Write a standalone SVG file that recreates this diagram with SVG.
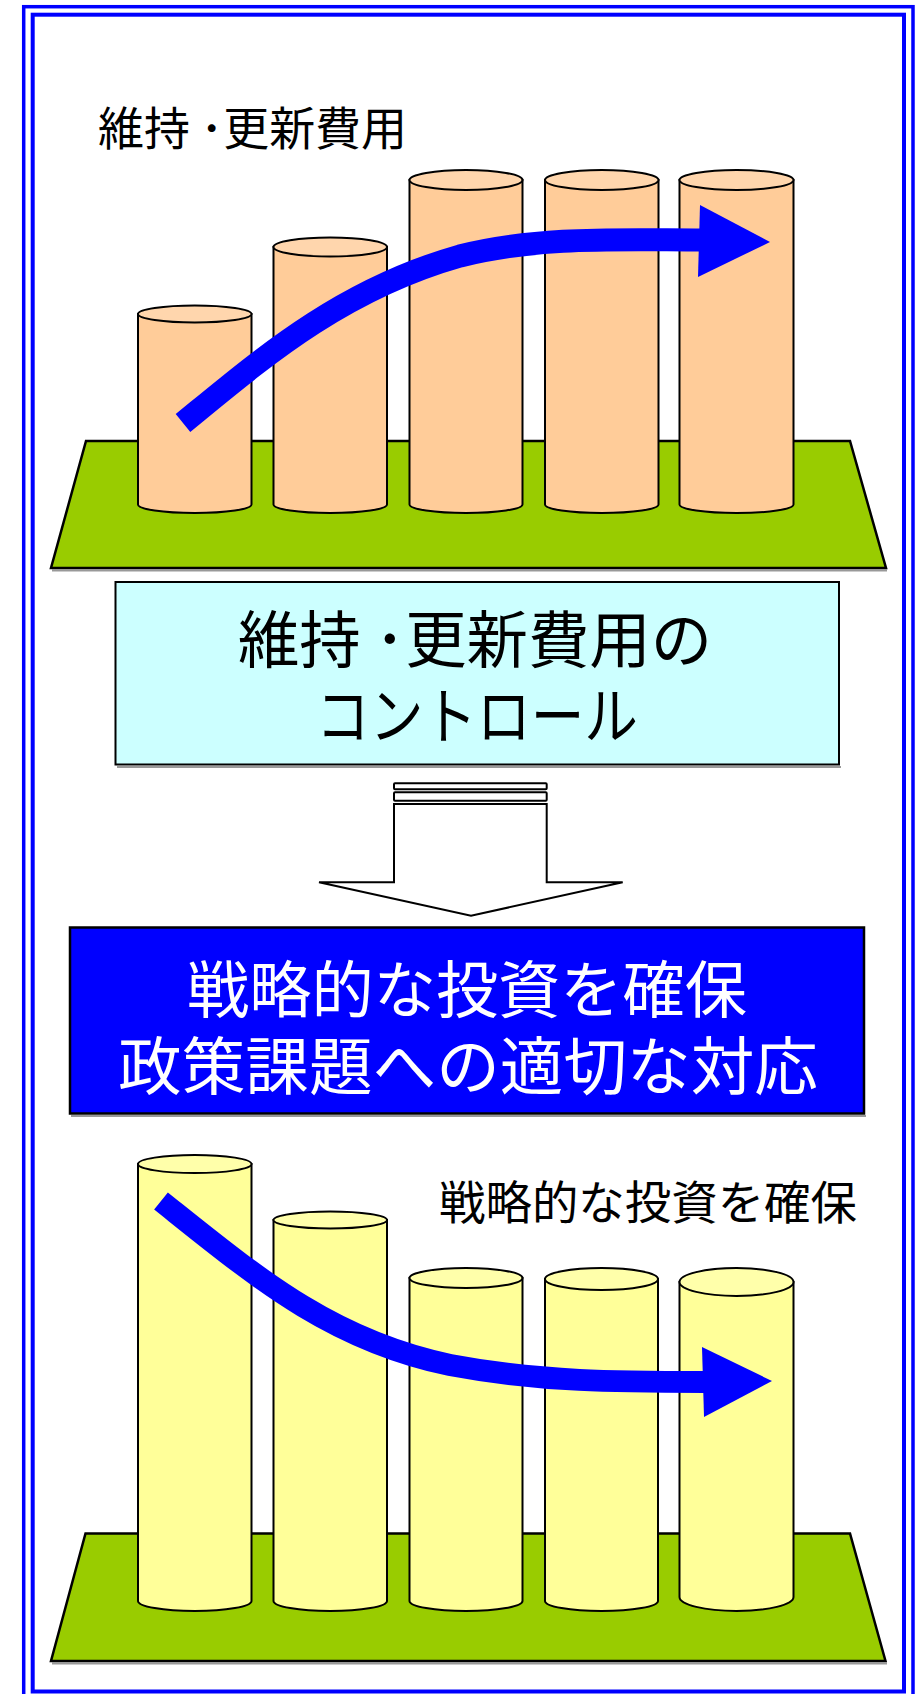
<svg xmlns="http://www.w3.org/2000/svg" width="922" height="1694" viewBox="0 0 922 1694">
<style>
.frame{fill:none;stroke:#0000FF}
.ground{fill:#99CC00;stroke:#000;stroke-width:2.5;stroke-linejoin:miter}
.shadow{fill:none;stroke:#999;stroke-width:2}
.cylO{fill:#FFCC99;stroke:#000;stroke-width:2}
.topO{fill:#FFD6AD;stroke:#000;stroke-width:2}
.cylY{fill:#FFFF99;stroke:#000;stroke-width:2}
.topY{fill:#FFFFAA;stroke:#000;stroke-width:2}
.trend{fill:none;stroke:#0000FF;stroke-width:23;stroke-linejoin:round}
.head{fill:#0000FF}
.jp{font-family:"Noto Sans CJK JP","Noto Sans CJK SC",sans-serif}
</style>
<rect x="0" y="0" width="922" height="1694" fill="#fff"/>
<g id="frame">
<rect class="frame" x="23.7" y="6.7" width="889.3" height="1694" stroke-width="3.5"/>
<rect class="frame" x="32.7" y="14.7" width="871.3" height="1676.8" stroke-width="4"/>
</g>

<g id="top-chart">
<text class="jp" x="98" y="145" font-size="46" textLength="309" lengthAdjust="spacingAndGlyphs" fill="#000">維持 ･更新費用</text>
<polyline class="shadow" points="52,570.5 887,570.5"/>
<polygon class="ground" points="86,441 850,441 886,568 51,568"/>
<g id="cyl-top-1">
<path class="cylO" d="M138,314 V504.5 A56.75,8.5 0 0 0 251.5,504.5 V314 Z"/>
<ellipse class="topO" cx="194.75" cy="314" rx="56.75" ry="8.5"/>
</g>
<g id="cyl-top-2">
<path class="cylO" d="M273.5,247 V504.5 A56.75,8.5 0 0 0 387,504.5 V247 Z"/>
<ellipse class="topO" cx="330.25" cy="247" rx="56.75" ry="9.5"/>
</g>
<g id="cyl-top-3">
<path class="cylO" d="M409.5,180 V504.5 A56.5,8.5 0 0 0 522.5,504.5 V180 Z"/>
<ellipse class="topO" cx="466" cy="180" rx="56.5" ry="10"/>
</g>
<g id="cyl-top-4">
<path class="cylO" d="M545,180 V504.5 A56.75,8.5 0 0 0 658.5,504.5 V180 Z"/>
<ellipse class="topO" cx="601.75" cy="180" rx="56.75" ry="10"/>
</g>
<g id="cyl-top-5">
<path class="cylO" d="M679.5,180 V504.5 A57,8.5 0 0 0 793.5,504.5 V180 Z"/>
<ellipse class="topO" cx="736.5" cy="180" rx="57" ry="10"/>
</g>
<g id="trend-up">
<path class="trend" d="M183,423 C260,360 340,290 460,256 C540,236 620,240 702,240"/>
<polygon class="head" points="700,205 698,277 770,242"/>
</g>
</g>

<g id="box-control">
<polyline class="shadow" points="117,767 841,767"/>
<rect x="115.5" y="582" width="723.5" height="182.5" fill="#CCFFFF" stroke="#000" stroke-width="2"/>
<text class="jp" x="238" y="663" font-size="62" textLength="474" lengthAdjust="spacingAndGlyphs" fill="#000">維持 ･更新費用の</text>
<text class="jp" x="316" y="739" font-size="62" textLength="322" lengthAdjust="spacingAndGlyphs" fill="#000">コントロール</text>
</g>

<g id="connectors">
<rect x="394" y="783.3" width="152.7" height="6" rx="1" fill="#fff" stroke="#000" stroke-width="2"/>
<rect x="394" y="792.3" width="152.7" height="8.4" rx="1" fill="#fff" stroke="#000" stroke-width="2"/>
<polygon points="394,804 546.7,804 546.7,882.3 622.7,882.3 471,915.7 319,882.3 394,882.3" fill="#fff" stroke="#000" stroke-width="2" stroke-linejoin="miter"/>
</g>

<g id="box-strategy">
<polyline class="shadow" points="71,1116 866,1116"/>
<rect x="70" y="927.5" width="794" height="186" fill="#0000FF" stroke="#000" stroke-width="2.5"/>
<text class="jp" x="187" y="1013" font-size="62" textLength="560" lengthAdjust="spacingAndGlyphs" fill="#fff">戦略的な投資を確保</text>
<text class="jp" x="118" y="1089" font-size="63" textLength="700" lengthAdjust="spacingAndGlyphs" fill="#fff">政策課題への適切な対応</text>
</g>

<g id="bottom-chart">
<text class="jp" x="439" y="1219" font-size="46" textLength="418" lengthAdjust="spacingAndGlyphs" fill="#000">戦略的な投資を確保</text>
<polyline class="shadow" points="52,1663.5 887,1663.5"/>
<polygon class="ground" points="85.5,1533.5 850,1533.5 885.5,1661 51,1661"/>
<g id="cyl-bot-1">
<path class="cylY" d="M138,1164 V1601 A56.75,10 0 0 0 251.5,1601 V1164 Z"/>
<ellipse class="topY" cx="194.75" cy="1164" rx="56.75" ry="9"/>
</g>
<g id="cyl-bot-2">
<path class="cylY" d="M273.5,1220 V1601 A56.75,10 0 0 0 387,1601 V1220 Z"/>
<ellipse class="topY" cx="330.25" cy="1220" rx="56.75" ry="8.5"/>
</g>
<g id="cyl-bot-3">
<path class="cylY" d="M409.5,1278 V1601 A56.5,10 0 0 0 522.5,1601 V1278 Z"/>
<ellipse class="topY" cx="466" cy="1278" rx="56.5" ry="10"/>
</g>
<g id="cyl-bot-4">
<path class="cylY" d="M545,1279 V1601 A56.5,10 0 0 0 658,1601 V1279 Z"/>
<ellipse class="topY" cx="601.5" cy="1279" rx="56.5" ry="11"/>
</g>
<g id="cyl-bot-5">
<path class="cylY" d="M679.5,1282 V1597 A57,14 0 0 0 793.5,1597 V1282 Z"/>
<ellipse class="topY" cx="736.5" cy="1282" rx="57" ry="14"/>
</g>
<g id="trend-down">
<path class="trend" style="stroke-width:22" d="M161,1201 C255,1276 330,1340 450,1365 C540,1382 620,1382 705,1382"/>
<polygon class="head" points="702,1347 704,1417 772,1381"/>
</g>
</g>
</svg>
